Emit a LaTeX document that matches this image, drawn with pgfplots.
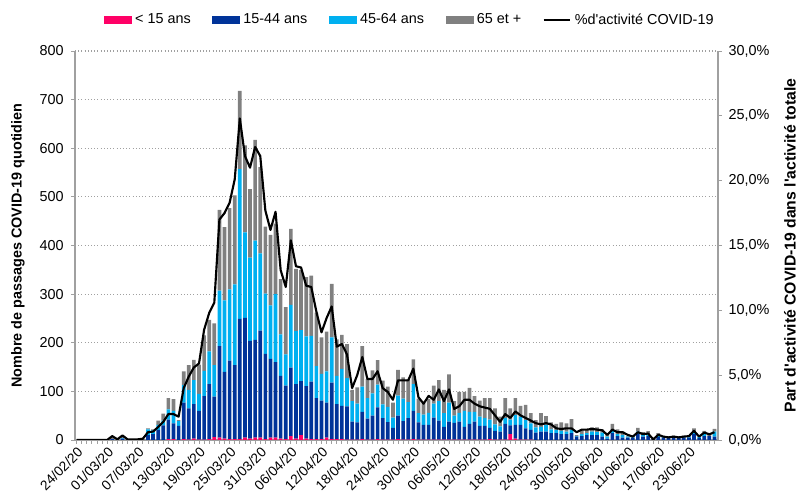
\documentclass[border=0pt]{standalone}
\usepackage{pgfplots}
\pgfplotsset{compat=1.18}
\usepackage{pgfplotstable}
\usepackage{fontspec}
\setmainfont{Liberation Sans}[Ligatures=TeXOff]
\definecolor{cpink}{HTML}{FF0066}
\definecolor{cdark}{HTML}{003399}
\definecolor{clight}{HTML}{00B0F0}
\definecolor{cgray}{HTML}{808080}
\definecolor{caxis}{HTML}{A0A0A0}
\pgfplotsset{
  boxlegend/.style={legend image code/.code={\fill[##1] (0pt,-3pt) rectangle (21pt,3pt);}},
  linelegend/.style={legend image code/.code={\draw[##1] (0pt,0pt) -- (20pt,0pt);}},
}

\pgfplotstableread{
day pink dark lb gray pct
0 0 0 0 0 0
1 0 0 0 0 0
2 0 0 0 0 0
3 0 0 0 0 0
4 0 0 0 0 0
5 0 0 0 0 0
6 0 0 0 0 0
7 0 2 0 3 0.3
8 0 0 0 1 0.05
9 0 3 1 2 0.35
10 0 0 0 1 0.05
11 0 0 0 0 0.05
12 0 1 0 0 0.05
13 0 1 0 1 0.1
14 0 10 12 2 0.6
15 0 12 8 2 0.65
16 0 21 10 9 1.0
17 0 30 10 14 1.4
18 2 40 21 23 2.0
19 2 32 26 24 2.0
20 0 29 10 2 1.8
21 2 75 36 28 4.0
22 1 64 38 51 4.9
23 3 71 49 42 5.6
24 1 59 35 60 5.9
25 1 89 52 73 8.5
26 2 113 67 65 9.8
27 6 83 65 86 10.6
28 5 188 114 166 17.0
29 3 137 147 151 17.5
30 2 161 147 167 18.3
31 2 152 166 183 20.1
32 2 247 308 161 24.8
33 5 246 176 179 21.9
34 3 201 171 141 21.0
35 5 201 204 207 22.6
36 5 220 159 177 21.9
37 2 175 124 138 17.7
38 5 162 110 145 16.2
39 5 155 140 145 17.6
40 3 129 85 114 13.1
41 2 110 64 97 11.8
42 8 141 129 156 15.4
43 3 112 109 128 13.4
44 10 111 105 124 13.3
45 3 108 102 122 11.9
46 2 118 94 124 11.8
47 2 84 66 110 9.9
48 2 79 55 75 8.3
49 5 72 64 82 9.4
50 2 116 93 110 10.3
51 2 72 58 75 7.2
52 2 68 76 70 7.4
53 1 68 58 70 6.6
54 1 37 42 23 4.0
55 1 35 39 33 5.0
56 2 56 52 83 6.4
57 1 43 42 39 4.7
58 1 49 46 47 4.7
59 2 65 47 50 5.3
60 1 44 28 49 4.0
61 1 36 31 42 3.7
62 1 24 21 31 3.1
63 2 48 41 53 4.6
64 1 38 46 44 4.6
65 1 44 33 46 4.6
66 2 58 55 51 5.5
67 1 35 19 30 3.3
68 1 30 21 24 2.8
69 1 30 25 28 3.4
70 1 45 29 37 3.1
71 1 39 40 43 3.9
72 1 26 28 48 3.0
73 1 37 39 58 3.9
74 1 34 15 30 2.4
75 1 37 18 43 2.6
76 1 26 33 39 3.1
77 1 32 25 49 3.1
78 1 37 20 32 2.8
79 1 28 19 33 2.6
80 1 28 16 41 2.5
81 2 23 17 44 2.4
82 1 18 13 33 1.9
83 1 16 11 20 1.4
84 1 32 12 41 2.0
85 12 18 12 23 1.7
86 3 28 20 35 2.2
87 1 30 17 22 1.9
88 1 23 17 31 1.7
89 1 20 13 21 1.5
90 0 15 11 15 1.3
91 0 17 10 28 1.2
92 0 17 14 18 1.3
93 0 14 8 14 1.2
94 0 14 7 12 0.9
95 0 12 7 17 0.85
96 0 12 5 17 0.9
97 0 14 7 22 0.9
98 0 7 1 2 0.6
99 0 8 4 10 0.8
100 0 10 4 8 0.8
101 0 10 7 9 0.85
102 0 10 6 10 0.8
103 0 7 8 7 0.75
104 0 3 4 7 0.4
105 0 14 5 14 0.8
106 0 8 4 10 0.6
107 0 5 5 7 0.6
108 0 5 2 1 0.4
109 0 5 2 1 0.26
110 0 12 5 8 0.6
111 0 7 3 6 0.45
112 0 8 4 6 0.5
113 0 2 1 0 0.05
114 0 6 2 6 0.4
115 0 5 2 1 0.26
116 0 4 2 1 0.2
117 0 5 2 2 0.26
118 0 4 2 1 0.2
119 0 5 2 2 0.26
120 0 5 2 1 0.3
121 0 12 5 7 0.7
122 0 4 2 1 0.26
123 0 8 4 7 0.57
124 0 8 0 4 0.44
125 0 7 10 6 0.6
}\data

\begin{document}
\begin{tikzpicture}[font=\fontsize{10.8}{13}\selectfont]
\useasboundingbox (-56.25pt,-43.5pt) rectangle (543.75pt,330pt);
\begin{axis}[
  at={(0pt,0pt)}, anchor=south west,
  scale only axis, width=482.25pt, height=291.75pt,
  xmin=-0.3, xmax=125.7, ymin=0, ymax=800,
  ybar stacked, bar width=0.72,
  axis x line*=bottom, axis y line*=left,
  axis line style={caxis, line width=0.8pt},
  xtick={0,6,...,120},
  xticklabels={24/02/20,01/03/20,07/03/20,13/03/20,19/03/20,25/03/20,31/03/20,06/04/20,12/04/20,18/04/20,24/04/20,30/04/20,06/05/20,12/05/20,18/05/20,24/05/20,30/05/20,05/06/20,11/06/20,17/06/20,23/06/20},
  x tick label style={rotate=45, anchor=north east, inner sep=1pt, font=\fontsize{10.3}{12}\selectfont},
  y tick label style={xshift=-2pt},
  minor xtick={0,1,...,125},
  tick align=outside, tick style={caxis, line width=0.6pt},
  major tick length=3pt, minor tick length=3pt,
  ytick={0,100,...,800},
  ymajorgrids, grid style={caxis, dotted, line width=0.8pt},
  ylabel={Nombre de passages COVID-19 quotidien},
  ylabel style={at={(axis description cs:-0.0886,0.5)}, anchor=center, font=\fontsize{10.8}{13}\selectfont\bfseries},
  /pgf/number format/assume math mode=true,
  legend columns=5,
  legend style={draw=none, fill=none, at={(axis description cs:0.521,1.08)}, anchor=center,
    /tikz/every even column/.append style={column sep=14pt},
    /tikz/every odd column/.append style={column sep=0.5pt}},
  legend cell align=left,
]
\addplot[fill=cpink, draw=none, boxlegend] table[x=day,y=pink]{\data};
\addlegendentry{< 15 ans}
\addplot[fill=cdark, draw=none, boxlegend] table[x=day,y=dark]{\data};
\addlegendentry{15-44 ans}
\addplot[fill=clight, draw=none, boxlegend] table[x=day,y=lb]{\data};
\addlegendentry{45-64 ans}
\addplot[fill=cgray, draw=none, boxlegend] table[x=day,y=gray]{\data};
\addlegendentry{65 et +}
\addlegendimage{black, line width=1.6pt, linelegend}
\addlegendentry{\%d'activité COVID-19}
\end{axis}
\begin{axis}[
  at={(0pt,0pt)}, anchor=south west,
  scale only axis, width=482.25pt, height=291.75pt,
  xmin=-0.3, xmax=125.7, ymin=0, ymax=30,
  axis x line=none, axis y line*=right,
  axis line style={caxis, line width=0.8pt},
  tick align=outside, tick style={caxis, line width=0.6pt}, major tick length=3pt,
  ytick={0,5,...,30},
  y tick label style={xshift=1.5pt},
  yticklabels={{0,0\%},{5,0\%},{10,0\%},{15,0\%},{20,0\%},{25,0\%},{30,0\%}},
  ylabel={Part d'activité COVID-19 dans l'activité totale},
  ylabel style={at={(axis description cs:1.112,0.5)}, anchor=center, font=\fontsize{11.8}{13}\selectfont\bfseries},
]
\addplot[black, line width=1.6pt, line join=round, mark=none] table[x=day,y=pct]{\data};
\end{axis}
\end{tikzpicture}
\end{document}
